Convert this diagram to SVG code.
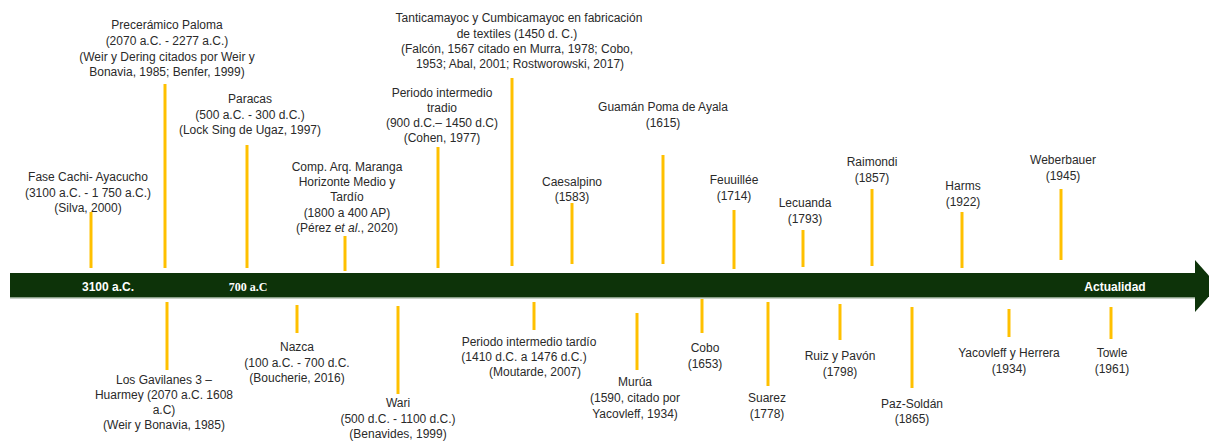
<svg xmlns="http://www.w3.org/2000/svg" width="1209" height="441" viewBox="0 0 1209 441">
<style>
.t{font-family:"Liberation Sans",Arial,sans-serif;font-size:12px;fill:#2a2a2a;text-anchor:middle}
.tick{stroke:#FFC000;stroke-width:3;fill:none}
.bt{font-family:"Liberation Sans",Arial,sans-serif;font-size:12px;font-weight:bold;fill:#ffffff;text-anchor:middle}
</style>
<rect width="1209" height="441" fill="#ffffff"/>
<g id="axis">
<rect x="10" y="273" width="1186" height="24.5" fill="#0d3309"/>
<line x1="10" y1="298" x2="1196" y2="298" stroke="#8fa58f" stroke-width="1.2"/>
<polygon points="1195,260 1218,286 1195,312" fill="#0d3309"/>
<text class="bt" x="108" y="291">3100 a.C.</text>
<text x="248" y="291" style="font-family:'Liberation Serif','Times New Roman',serif;font-size:12px;font-weight:bold;fill:#ffffff;text-anchor:middle">700 a.C</text>
<text class="bt" x="1115" y="291">Actualidad</text>
</g>
<g id="connectors">
<line class="tick" x1="91" y1="212" x2="91" y2="268"/>
<line class="tick" x1="165" y1="84" x2="165" y2="268"/>
<line class="tick" x1="247" y1="145" x2="247" y2="268"/>
<line class="tick" x1="345" y1="236" x2="345" y2="271"/>
<line class="tick" x1="438" y1="147" x2="438" y2="268"/>
<line class="tick" x1="512" y1="78" x2="512" y2="266"/>
<line class="tick" x1="572" y1="203" x2="572" y2="264"/>
<line class="tick" x1="663" y1="155" x2="663" y2="264"/>
<line class="tick" x1="734" y1="210" x2="734" y2="269"/>
<line class="tick" x1="803" y1="230" x2="803" y2="267"/>
<line class="tick" x1="872" y1="189" x2="872" y2="266"/>
<line class="tick" x1="962" y1="212" x2="962" y2="268"/>
<line class="tick" x1="1061" y1="189" x2="1061" y2="260"/>
<line class="tick" x1="167" y1="302" x2="167" y2="370"/>
<line class="tick" x1="297" y1="305" x2="297" y2="333"/>
<line class="tick" x1="398" y1="306" x2="398" y2="394"/>
<line class="tick" x1="534" y1="302" x2="534" y2="330"/>
<line class="tick" x1="637" y1="313" x2="637" y2="370"/>
<line class="tick" x1="702" y1="299" x2="702" y2="333"/>
<line class="tick" x1="768" y1="302" x2="768" y2="386"/>
<line class="tick" x1="840" y1="304" x2="840" y2="340"/>
<line class="tick" x1="912" y1="307" x2="912" y2="388"/>
<line class="tick" x1="1009" y1="309" x2="1009" y2="337"/>
<line class="tick" x1="1111" y1="307" x2="1111" y2="339"/>
</g>
<g id="fase-cachi"><text class="t"><tspan x="88" y="181">Fase Cachi- Ayacucho</tspan><tspan x="88" y="197">(3100 a.C. - 1 750 a.C.)</tspan><tspan x="88" y="212">(Silva, 2000)</tspan></text></g>
<g id="preceramico"><text class="t"><tspan x="167" y="29">Precerámico Paloma</tspan><tspan x="167" y="45">(2070 a.C. - 2277 a.C.)</tspan><tspan x="167" y="61">(Weir y Dering citados por Weir y</tspan><tspan x="167" y="76">Bonavia, 1985; Benfer, 1999)</tspan></text></g>
<g id="paracas"><text class="t"><tspan x="250" y="103">Paracas</tspan><tspan x="250" y="119">(500 a.C. - 300 d.C.)</tspan><tspan x="250" y="134">(Lock Sing de Ugaz, 1997)</tspan></text></g>
<g id="maranga"><text class="t"><tspan x="347" y="171">Comp. Arq. Maranga</tspan><tspan x="347" y="186">Horizonte Medio y</tspan><tspan x="347" y="201">Tardío</tspan><tspan x="347" y="217">(1800 a 400 AP)</tspan><tspan x="347" y="232">(Pérez <tspan font-style="italic">et al</tspan>., 2020)</tspan></text></g>
<g id="periodo-tradio"><text class="t"><tspan x="442" y="97">Periodo intermedio</tspan><tspan x="442" y="112">tradio</tspan><tspan x="442" y="127">(900 d.C.– 1450 d.C)</tspan><tspan x="442" y="142">(Cohen, 1977)</tspan></text></g>
<g id="tanticamayoc"><text class="t"><tspan x="519" y="22">Tanticamayoc y Cumbicamayoc en fabricación</tspan><tspan x="517" y="37.5">de textiles (1450 d. C.)</tspan><tspan x="517" y="53">(Falcón, 1567 citado en Murra, 1978; Cobo,</tspan><tspan x="520" y="68">1953; Abal, 2001; Rostworowski, 2017)</tspan></text></g>
<g id="caesalpino"><text class="t"><tspan x="572" y="186">Caesalpino</tspan><tspan x="572" y="201">(1583)</tspan></text></g>
<g id="guaman"><text class="t"><tspan x="663" y="111">Guamán Poma de Ayala</tspan><tspan x="663" y="127">(1615)</tspan></text></g>
<g id="feuuillee"><text class="t"><tspan x="734" y="184">Feuuillée</tspan><tspan x="734" y="200">(1714)</tspan></text></g>
<g id="lecuanda"><text class="t"><tspan x="805" y="207">Lecuanda</tspan><tspan x="805" y="223">(1793)</tspan></text></g>
<g id="raimondi"><text class="t"><tspan x="872" y="166">Raimondi</tspan><tspan x="872" y="182">(1857)</tspan></text></g>
<g id="harms"><text class="t"><tspan x="963" y="190">Harms</tspan><tspan x="963" y="206">(1922)</tspan></text></g>
<g id="weberbauer"><text class="t"><tspan x="1063" y="164">Weberbauer</tspan><tspan x="1063" y="180">(1945)</tspan></text></g>
<g id="gavilanes"><text class="t"><tspan x="164" y="384">Los Gavilanes 3 –</tspan><tspan x="164" y="399">Huarmey (2070 a.C. 1608</tspan><tspan x="164" y="414">a.C)</tspan><tspan x="164" y="429">(Weir y Bonavia, 1985)</tspan></text></g>
<g id="nazca"><text class="t"><tspan x="297" y="351">Nazca</tspan><tspan x="297" y="367">(100 a.C. - 700 d.C.</tspan><tspan x="297" y="382">(Boucherie, 2016)</tspan></text></g>
<g id="wari"><text class="t"><tspan x="398" y="407">Wari</tspan><tspan x="398" y="422.5">(500 d.C. - 1100 d.C.)</tspan><tspan x="398" y="437.5">(Benavides, 1999)</tspan></text></g>
<g id="periodo-tardio"><text class="t"><tspan x="529" y="346">Periodo intermedio tardío</tspan><tspan x="524" y="361">(1410 d.C. a 1476 d.C.)</tspan><tspan x="535" y="376">(Moutarde, 2007)</tspan></text></g>
<g id="murua"><text class="t"><tspan x="635" y="386">Murúa</tspan><tspan x="635" y="402">(1590, citado por</tspan><tspan x="635" y="418">Yacovleff, 1934)</tspan></text></g>
<g id="cobo"><text class="t"><tspan x="705" y="352">Cobo</tspan><tspan x="705" y="368">(1653)</tspan></text></g>
<g id="suarez"><text class="t"><tspan x="767" y="402">Suarez</tspan><tspan x="767" y="418">(1778)</tspan></text></g>
<g id="ruiz-pavon"><text class="t"><tspan x="840" y="360">Ruiz y Pavón</tspan><tspan x="840" y="376">(1798)</tspan></text></g>
<g id="paz-soldan"><text class="t"><tspan x="912" y="408">Paz-Soldán</tspan><tspan x="912" y="423">(1865)</tspan></text></g>
<g id="yacovleff"><text class="t"><tspan x="1009" y="357">Yacovleff y Herrera</tspan><tspan x="1009" y="373">(1934)</tspan></text></g>
<g id="towle"><text class="t"><tspan x="1112" y="357">Towle</tspan><tspan x="1112" y="373">(1961)</tspan></text></g>
</svg>
